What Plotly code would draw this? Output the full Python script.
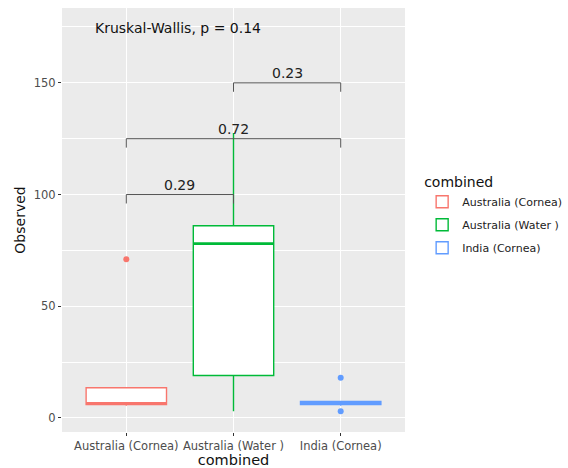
import plotly.graph_objects as go

categories = ["Australia (Cornea)", "Australia (Water )", "India (Cornea)"]
colors = ["#F8766D", "#00BA38", "#619CFF"]
q1 = [6.0, 19.0, 6.0]
median = [6.5, 78.0, 6.6]
q3 = [13.5, 86.0, 7.4]
lowerfence = [5.5, 3.0, 5.5]
upperfence = [13.5, 127.5, 7.6]
outliers = [[71.0], [], [18.0, 3.0]]

# pairwise comparisons: (group a index, group b index, bracket y, label)
comp_a = [0, 0, 1]
comp_b = [1, 2, 2]
comp_y = [100.0, 125.0, 150.0]
comp_label = ["0.29", "0.72", "0.23"]
kw_text = "Kruskal-Wallis, p = 0.14"
kw_y = 174.5

fig = go.Figure()
for i, c in enumerate(categories):
    fig.add_trace(go.Box(
        x=[c], q1=[q1[i]], median=[median[i]], q3=[q3[i]],
        lowerfence=[lowerfence[i]], upperfence=[upperfence[i]],
        name=c, fillcolor="white", line=dict(color=colors[i], width=1.4),
        width=0.75, whiskerwidth=0, boxpoints=False, hoverinfo="skip",
        legendgroup=c,
    ))
    # thicker median line (ggplot style)
    fig.add_trace(go.Scatter(
        x=[i - 0.375, i + 0.375], y=[median[i], median[i]], mode="lines",
        line=dict(color=colors[i], width=2.8), showlegend=False,
        hoverinfo="skip", xaxis="x2", legendgroup=c,
    ))
    if outliers[i]:
        fig.add_trace(go.Scatter(
            x=[c] * len(outliers[i]), y=outliers[i], mode="markers",
            marker=dict(color=colors[i], size=6), showlegend=False,
            hoverinfo="skip", legendgroup=c,
        ))

tick = 4.0
for a, b, yv, lab in zip(comp_a, comp_b, comp_y, comp_label):
    fig.add_trace(go.Scatter(
        x=[a, a, b, b], y=[yv - tick, yv, yv, yv - tick], mode="lines",
        line=dict(color="#555555", width=1), showlegend=False,
        hoverinfo="skip", xaxis="x2",
    ))
    fig.add_annotation(x=(a + b) / 2, y=yv, xref="x2", yref="y", text=lab,
                       showarrow=False, yanchor="bottom", yshift=0,
                       font=dict(size=14, color="#222222"))

fig.add_annotation(x=-0.31, y=kw_y, xref="x2", yref="y", text=kw_text,
                   showarrow=False, xanchor="left", yanchor="middle",
                   font=dict(size=14, color="#111111"))

fig.update_layout(
    width=568, height=468,
    margin=dict(l=62, r=163, t=8, b=36, autoexpand=False),
    paper_bgcolor="white", plot_bgcolor="#EBEBEB",
    font=dict(family="DejaVu Sans", color="#4D4D4D"),
    boxmode="overlay",
    xaxis=dict(
        type="category", categoryorder="array", categoryarray=categories,
        range=[-0.6, 2.6], showgrid=True, gridcolor="white", gridwidth=1.2,
        ticks="outside", ticklen=3, tickcolor="#333333", zeroline=False,
        tickfont=dict(size=11.5, color="#4D4D4D"), automargin=False,
        title=dict(text="combined", font=dict(size=14.5, color="#111111"), standoff=0),
    ),
    xaxis2=dict(overlaying="x", anchor="y", range=[-0.6, 2.6], visible=False),
    yaxis=dict(
        range=[-6.3, 183.5], tickvals=[0, 50, 100, 150],
        showgrid=True, gridcolor="white", gridwidth=1.2, zeroline=False,
        ticks="outside", ticklen=3, tickcolor="#333333",
        tickfont=dict(size=11.5, color="#4D4D4D"), automargin=False,
        minor=dict(tickvals=[25, 75, 125, 175], showgrid=True,
                   gridcolor="white", gridwidth=0.5, ticks=""),
        title=dict(text="Observed", font=dict(size=14, color="#111111"), standoff=4),
    ),
    legend=dict(
        x=1.05, y=0.62, xanchor="left", yanchor="top",
        title=dict(text="combined", font=dict(size=14, color="#111111")),
        font=dict(size=11, color="#222222"), tracegroupgap=4,
        bgcolor="rgba(0,0,0,0)",
    ),
)

fig.write_html("out.html", config={"displayModeBar": False},
               post_script="document.body.style.margin='0';document.body.style.overflow='hidden';")
